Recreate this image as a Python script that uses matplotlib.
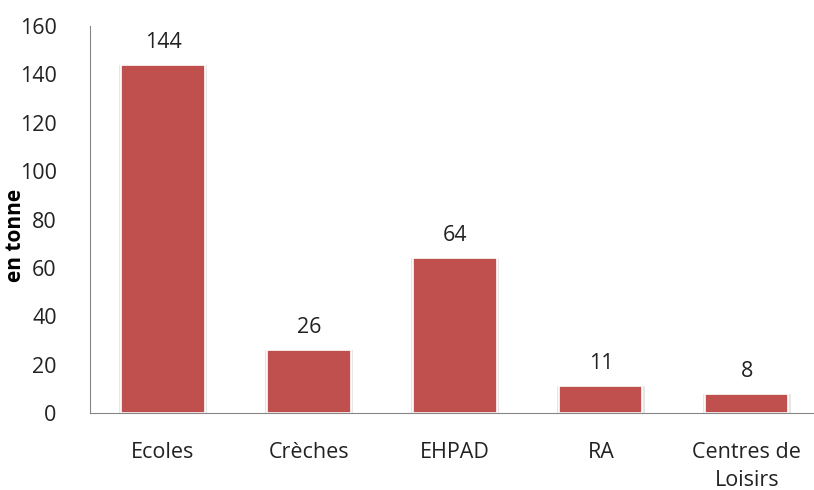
import matplotlib.pyplot as plt

categories = ['Ecoles', 'Crèches', 'EHPAD', 'RA', 'Centres de\nLoisirs']
values = [144, 26, 64, 11, 8]
yticks = [0, 20, 40, 60, 80, 100, 120, 140, 160]

plt.rcParams['font.family'] = ['Open Sans', 'DejaVu Sans']

fig = plt.figure(figsize=(8.14, 4.9), dpi=100)
ax = fig.add_axes([0.1106, 0.157, 0.8894, 0.790])

x = list(range(len(categories)))
# faint shadow then the bars
ax.bar(x, values, width=0.6, color='#e6e6e6', zorder=1)
ax.bar(x, values, width=0.57, color='#C0504D', edgecolor='white', linewidth=1.2, zorder=2)

for i, v in zip(x, values):
    ax.text(i, v + 5, str(v), ha='center', va='bottom', fontsize=15.5, color='#222222')

ax.set_xlim(-0.5, 4.46)
ax.set_ylim(0, 160)
ax.set_yticks(yticks)
ax.set_xticks(x)
ax.set_xticklabels(categories, fontsize=15.5, color='#222222', linespacing=1.4)
ax.tick_params(axis='x', length=0, pad=21)
ax.tick_params(axis='y', length=0, pad=24, labelsize=15.5, labelcolor='#222222')

ax.set_ylabel('en tonne', fontsize=15, fontweight='bold')
ax.yaxis.set_label_coords(-0.088, 0.46)

for s in ['top', 'right']:
    ax.spines[s].set_visible(False)
ax.spines['left'].set_color('#868686')
ax.spines['bottom'].set_color('#868686')

fig.savefig('out.png', dpi=100)
